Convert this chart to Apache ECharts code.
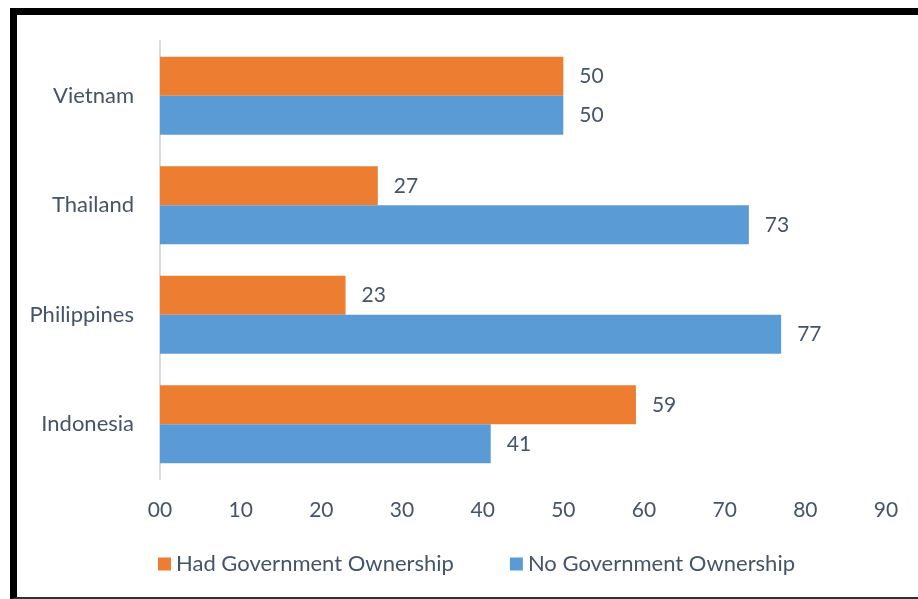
<!DOCTYPE html>
<html>
<head>
<meta charset="utf-8">
<script src="https://cdn.jsdelivr.net/npm/echarts@6/dist/echarts.min.js"></script>
<style>
  html, body { margin: 0; padding: 0; background: #fff; }
  #chart { width: 918px; height: 599px; }
  #frame {
    position: absolute; left: 10px; top: 8px; width: 920px; height: 582px;
    border-left: 7px solid #000; border-top: 7px solid #000; border-bottom: 2px solid #333;
    pointer-events: none;
  }
</style>
</head>
<body>
<div id="chart"></div>
<div id="frame"></div>
<script>
  const categories = ['Vietnam', 'Thailand', 'Philippines', 'Indonesia'];
  const hadGov = [50, 27, 23, 59];
  const noGov = [50, 73, 77, 41];
  const tickLabels = ['00', '10', '20', '30', '40', '50', '60', '70', '80', '90'];

  const textColor = '#44546a';
  const font = 'Lato, "Open Sans", sans-serif';

  const chart = echarts.init(document.getElementById('chart'));

  const labelStyle = {
    show: true,
    position: 'right',
    distance: 16,
    color: textColor,
    fontSize: 21,
    fontFamily: font
  };

  chart.setOption({
    animation: false,
    grid: {left: 160, top: 41, width: 726, height: 438},
    legend: {
      left: 153,
      top: 548,
      itemWidth: 13,
      itemHeight: 13,
      itemGap: 56,
      icon: 'rect',
      textStyle: {color: textColor, fontSize: 22, fontFamily: font},
      data: ['Had Government Ownership', 'No Government Ownership']
    },
    xAxis: {
      type: 'value',
      min: 0,
      max: 90,
      interval: 10,
      axisLine: {show: false},
      axisTick: {show: false},
      splitLine: {show: false},
      axisLabel: {
        color: textColor,
        fontSize: 21,
        fontFamily: font,
        margin: 21,
        formatter: (v) => tickLabels[Math.round(v / 10)]
      }
    },
    yAxis: {
      type: 'category',
      inverse: true,
      data: categories,
      axisLine: {show: true, lineStyle: {color: '#d9dde3', width: 2}},
      axisTick: {show: false},
      axisLabel: {color: textColor, fontSize: 22, fontFamily: font, margin: 26}
    },
    series: [
      {
        name: 'Had Government Ownership',
        type: 'bar',
        data: hadGov,
        barWidth: 39,
        barGap: '0%',
        itemStyle: {color: '#ed7d31'},
        label: labelStyle
      },
      {
        name: 'No Government Ownership',
        type: 'bar',
        data: noGov,
        barWidth: 39,
        barGap: '0%',
        itemStyle: {color: '#5b9bd5'},
        label: labelStyle
      }
    ]
  });
</script>
</body>
</html>
